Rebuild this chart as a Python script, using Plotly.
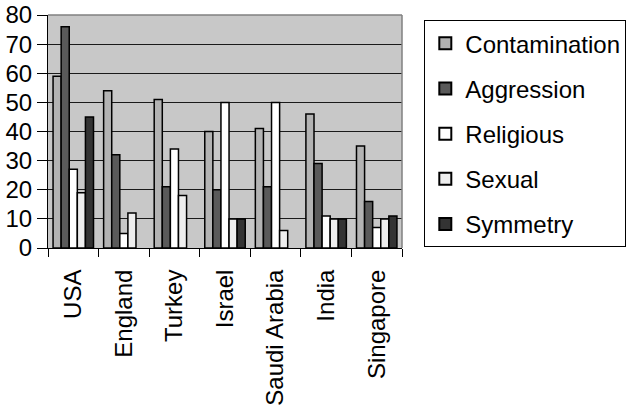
import plotly.graph_objects as go

countries = ["USA", "England", "Turkey", "Israel", "Saudi Arabia", "India", "Singapore"]
contamination = [59, 54, 51, 40, 41, 46, 35]
aggression = [76, 32, 21, 20, 21, 29, 16]
religious = [27, 5, 34, 50, 50, 11, 7]
sexual = [19, 12, 18, 10, 6, 10, 10]
symmetry = [45, None, None, 10, None, 10, 11]

series = [
    ("Contamination", contamination, "#b3b3b3"),
    ("Aggression", aggression, "#5a5a5a"),
    ("Religious", religious, "#ffffff"),
    ("Sexual", sexual, "#eeeeee"),
    ("Symmetry", symmetry, "#333333"),
]

FONT = "Liberation Sans, Arial, sans-serif"
FS = 24

fig = go.Figure()
for i, (name, vals, col) in enumerate(series):
    fig.add_trace(go.Bar(
        x=countries, y=vals, name=name, legendgroup=f"g{i}",
        marker=dict(color=col, line=dict(color="black", width=1.5)),
    ))

fig.update_layout(
    width=638, height=410,
    margin=dict(l=48, r=236, t=15, b=162, autoexpand=False),
    paper_bgcolor="white",
    plot_bgcolor="#c8c8c8",
    barmode="group", bargap=0.2, bargroupgap=0,
    font=dict(family=FONT, size=FS, color="black"),
    showlegend=True,
    legend=dict(
        x=1.063, y=0.978, xanchor="left", yanchor="top",
        bgcolor="white", bordercolor="black", borderwidth=1,
        font=dict(family=FONT, size=FS, color="black"),
        tracegroupgap=11, traceorder="grouped",
        itemsizing="constant",
    ),
)
fig.update_xaxes(
    type="category", tickangle=-90, tickson="boundaries",
    ticks="outside", ticklen=8, tickcolor="black", tickwidth=1,
    ticklabelstandoff=11,
    showline=True, linecolor="black", linewidth=1,
    showgrid=False, mirror=False, automargin=False,
    tickfont=dict(family=FONT, size=FS, color="black"),
)
fig.update_yaxes(
    range=[0, 80], dtick=10, tick0=0,
    ticks="outside", ticklen=10, tickcolor="black", tickwidth=1,
    showline=True, linecolor="black", linewidth=1,
    showgrid=True, gridcolor="#1a1a1a", gridwidth=1,
    zeroline=False, automargin=False,
    tickfont=dict(family=FONT, size=FS, color="black"),
)
# gray border on top and right of the plot area
fig.add_shape(type="line", xref="paper", yref="paper", x0=0, x1=1, y0=1, y1=1,
              line=dict(color="#808080", width=1.5))
fig.add_shape(type="line", xref="paper", yref="paper", x0=1, x1=1, y0=0, y1=1,
              line=dict(color="#808080", width=1.5))

fig.write_html("out.html", config={"displayModeBar": False},
               post_script="document.body.style.margin='0';")
